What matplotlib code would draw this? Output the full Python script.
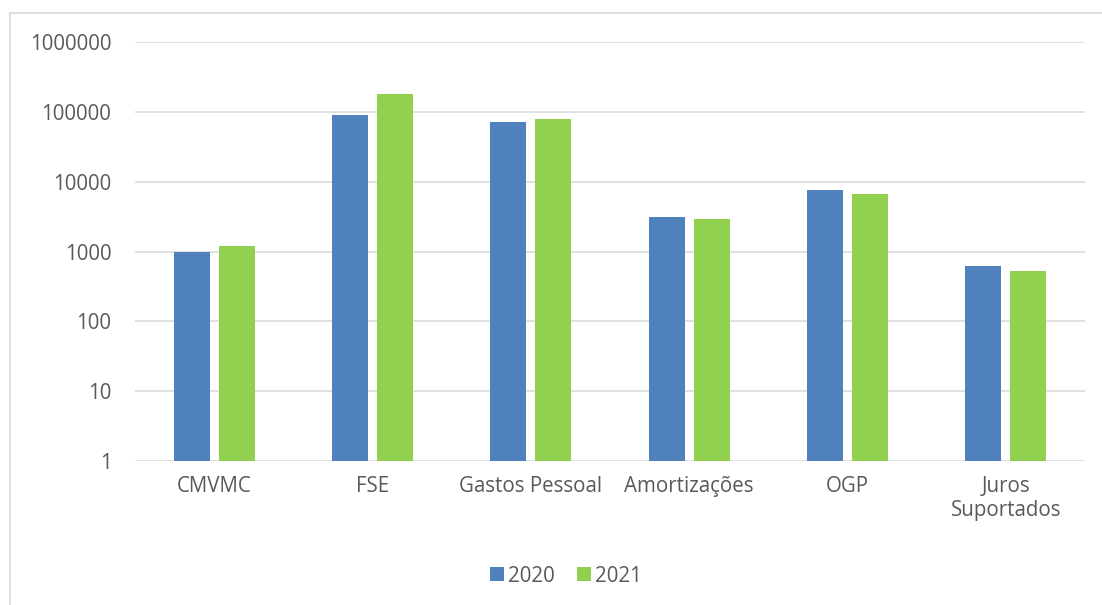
import matplotlib.pyplot as plt
import numpy as np
from matplotlib.lines import Line2D

categories = ['CMVMC', 'FSE', 'Gastos Pessoal', 'Amortizações', 'OGP', 'Juros\nSuportados']
vals_2020 = [985, 88800, 70500, 3070, 7480, 615]
vals_2021 = [1190, 179400, 77800, 2900, 6690, 527]
yticks = [1, 10, 100, 1000, 10000, 100000, 1000000]
ytick_labels = ['1', '10', '100', '1000', '10000', '100000', '1000000']

plt.rcParams['font.family'] = ['Open Sans', 'DejaVu Sans']
txt = '#595959'
grid = '#D9D9D9'
fs = 14.8

W, H = 1102, 605
fig = plt.figure(figsize=(W / 100, H / 100), dpi=100)
ax = fig.add_axes([135 / W, 1 - 461 / H, (1085 - 135) / W, (461 - 42) / H])

x = np.arange(len(categories))
bw = 0.227
off = 0.142
ax.bar(x - off, vals_2020, bw, color='#4F81BD', label='2020', zorder=3)
ax.bar(x + off, vals_2021, bw, color='#92D050', label='2021', zorder=3)

ax.set_yscale('log')
ax.set_ylim(1, 1000000)
ax.set_xlim(-0.5, len(categories) - 0.5)
ax.set_yticks(yticks)
ax.set_yticklabels(ytick_labels)
ax.minorticks_off()
ax.set_xticks(x)
ax.set_xticklabels(categories, linespacing=1.2)
ax.tick_params(axis='both', length=0, labelsize=fs, colors=txt)
ax.tick_params(axis='y', pad=17)
ax.tick_params(axis='x', pad=11)
ax.grid(axis='y', color=grid, linewidth=1.1, zorder=0)
for s in ax.spines.values():
    s.set_visible(False)

fig.legend(*ax.get_legend_handles_labels(), loc='center',
           bbox_to_anchor=(566 / W, 1 - 576 / H), ncol=2, frameon=False,
           fontsize=fs, labelcolor=txt, handlelength=0.65, handleheight=0.65,
           handletextpad=0.2, columnspacing=1.1)

# chart border (only top and left edges are inside the picture)
fig.add_artist(Line2D([10 / W, 10 / W], [0, 1 - 13 / H], color=grid, linewidth=1.2))
fig.add_artist(Line2D([10 / W, 1], [1 - 13 / H, 1 - 13 / H], color=grid, linewidth=1.2))

fig.savefig('out.png', dpi=100)
